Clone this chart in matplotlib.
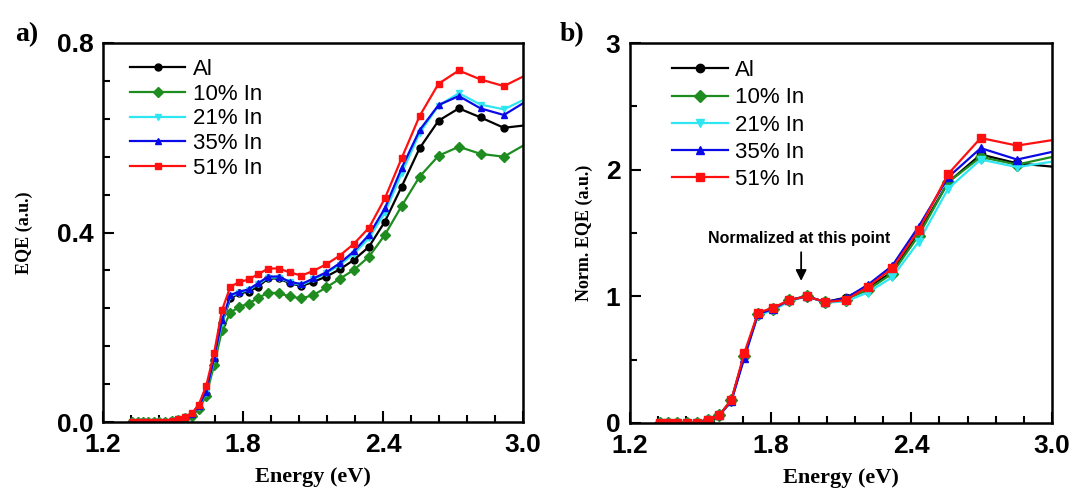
import matplotlib
matplotlib.use("Agg")
import matplotlib.pyplot as plt
from matplotlib.ticker import MultipleLocator

# ---------------- data ----------------
labels = ["Al", "10% In", "21% In", "35% In", "51% In"]
colors = ["#000000", "#1e8c1e", "#2ee6f2", "#0a0ae6", "#ff1010"]
markers = ["o", "D", "v", "^", "s"]

# panel a energies (eV)
energy_a = [1.326, 1.348, 1.370, 1.393, 1.417, 1.442, 1.467, 1.494, 1.521, 1.550,
            1.580, 1.610, 1.642, 1.676, 1.710, 1.746, 1.784, 1.824, 1.865, 1.908,
            1.953, 2.000, 2.050, 2.102, 2.157, 2.214, 2.275, 2.340, 2.408, 2.480,
            2.557, 2.638, 2.725, 2.818, 2.918, 3.024]

eqe_al = [0, 0, 0, 0, 0, 0, 0.001, 0.003, 0.005, 0.009,
          0.015, 0.030, 0.060, 0.130, 0.208, 0.261, 0.272, 0.275, 0.286, 0.303,
          0.303, 0.293, 0.287, 0.296, 0.307, 0.322, 0.342, 0.370, 0.423, 0.497,
          0.578, 0.636, 0.662, 0.643, 0.621, 0.627]
eqe_10 = [0, 0, 0, 0, 0, 0, 0.001, 0.002, 0.004, 0.008,
          0.013, 0.027, 0.055, 0.120, 0.194, 0.231, 0.243, 0.250, 0.262, 0.273,
          0.272, 0.265, 0.261, 0.268, 0.284, 0.302, 0.321, 0.349, 0.395, 0.456,
          0.518, 0.562, 0.581, 0.566, 0.560, 0.590]
eqe_21 = [0, 0, 0, 0, 0, 0, 0.001, 0.003, 0.006, 0.010,
          0.016, 0.032, 0.062, 0.132, 0.210, 0.265, 0.273, 0.279, 0.291, 0.305,
          0.305, 0.295, 0.289, 0.301, 0.314, 0.331, 0.355, 0.388, 0.442, 0.525,
          0.610, 0.668, 0.694, 0.670, 0.660, 0.685]
eqe_35 = [0, 0, 0, 0, 0, 0, 0.001, 0.003, 0.006, 0.010,
          0.016, 0.033, 0.064, 0.135, 0.215, 0.268, 0.275, 0.280, 0.293, 0.307,
          0.307, 0.296, 0.291, 0.303, 0.316, 0.335, 0.360, 0.395, 0.451, 0.536,
          0.616, 0.669, 0.688, 0.662, 0.648, 0.680]
eqe_51 = [0, 0, 0, 0, 0, 0, 0.001, 0.003, 0.007, 0.011,
          0.018, 0.036, 0.076, 0.145, 0.236, 0.286, 0.295, 0.301, 0.312, 0.324,
          0.324, 0.316, 0.309, 0.319, 0.333, 0.351, 0.376, 0.410, 0.472, 0.557,
          0.646, 0.714, 0.742, 0.723, 0.709, 0.735]

# panel b energies (eV)
energy_b = [1.326, 1.363, 1.401, 1.442, 1.485, 1.531, 1.580, 1.632, 1.687, 1.746,
            1.810, 1.879, 1.953, 2.033, 2.120, 2.214, 2.318, 2.431, 2.557, 2.696,
            2.851, 3.024]

norm_al = [0, 0, 0, 0, 0, 0.02, 0.06, 0.18, 0.53, 0.86,
           0.90, 0.97, 1.00, 0.955, 0.99, 1.07, 1.19, 1.50, 1.90, 2.12,
           2.05, 2.02]
norm_10 = [0, 0, 0, 0, 0, 0.02, 0.06, 0.18, 0.53, 0.86,
           0.90, 0.97, 1.00, 0.955, 0.975, 1.05, 1.18, 1.48, 1.90, 2.10,
           2.04, 2.11]
norm_21 = [0, 0, 0, 0, 0, 0.02, 0.06, 0.17, 0.52, 0.85,
           0.89, 0.96, 1.00, 0.95, 0.96, 1.03, 1.15, 1.43, 1.85, 2.08,
           2.02, 2.07]
norm_35 = [0, 0, 0, 0, 0, 0.02, 0.06, 0.17, 0.51, 0.86,
           0.90, 0.97, 1.00, 0.955, 0.985, 1.09, 1.24, 1.55, 1.94, 2.17,
           2.08, 2.15]
norm_51 = [0, 0, 0, 0, 0, 0.02, 0.06, 0.18, 0.55, 0.87,
           0.91, 0.97, 1.00, 0.955, 0.97, 1.075, 1.22, 1.52, 1.966, 2.25,
           2.19, 2.24]

series_a = [eqe_al, eqe_10, eqe_21, eqe_35, eqe_51]
series_b = [norm_al, norm_10, norm_21, norm_35, norm_51]

xticks = [1.2, 1.8, 2.4, 3.0]
xticklabels = ["1.2", "1.8", "2.4", "3.0"]

# ---------------- figure ----------------
fig = plt.figure(figsize=(10.74, 4.91), dpi=100)
W, H = 1074, 491
def rect(l, t, r, b):
    return [l / W, (H - b) / H, (r - l) / W, (b - t) / H]

ax_a = fig.add_axes(rect(103, 43, 523, 422))
ax_b = fig.add_axes(rect(630, 43, 1052, 423))

tick_font = dict(family=["Liberation Sans", "DejaVu Sans"], weight="bold", size=19)
serif = ["Liberation Serif", "DejaVu Serif"]

def style(ax, ylim, yticks, yticklabels, yminor, ylabel, ylpad):
    ax.set_xlim(1.2, 3.0)
    ax.set_ylim(*ylim)
    ax.set_xticks(xticks)
    ax.set_xticklabels(xticklabels, fontdict=tick_font)
    ax.xaxis.set_minor_locator(MultipleLocator(0.12))
    ax.set_yticks(yticks)
    ax.set_yticklabels(yticklabels, fontdict=tick_font)
    ax.yaxis.set_minor_locator(MultipleLocator(yminor))
    ax.tick_params(which="both", direction="in", top=False, right=False, width=1.5)
    ax.tick_params(which="major", length=8)
    ax.tick_params(axis="x", which="major", pad=8)
    ax.tick_params(axis="y", which="major", pad=7)
    ax.tick_params(which="minor", length=5)
    for s in ax.spines.values():
        s.set_linewidth(1.8)
    ax.set_xlabel("Energy (eV)", family=serif, weight="bold", size=16, labelpad=7)
    ax.set_ylabel(ylabel, family=serif, weight="bold", size=13, labelpad=ylpad)

def draw(ax, x, ys, ms):
    for y, c, m, lab in zip(ys, colors, markers, labels):
        ax.plot(x, y, color=c, marker=m, markersize=ms, linewidth=1.6,
                markerfacecolor=c, markeredgecolor=c, label=lab)

draw(ax_a, energy_a, series_a, 5)
draw(ax_b, energy_b, series_b, 6)

style(ax_a, (0, 0.8), [0.0, 0.4, 0.8], ["0.0", "0.4", "0.8"], 0.08, "EQE (a.u.)", 17)
style(ax_b, (0, 3), [0, 1, 2, 3], ["0", "1", "2", "3"], 0.5, "Norm. EQE (a.u.)", 9)

leg_font = dict(family=["Liberation Sans", "DejaVu Sans"], size=16)
ax_a.legend(loc="upper left", bbox_to_anchor=(0.064, 0.958), frameon=False,
            prop=leg_font, handlelength=2.5, handletextpad=0.33,
            labelspacing=0.17, borderaxespad=0, borderpad=0)
ax_b.legend(loc="upper left", bbox_to_anchor=(0.0995, 0.955), frameon=False,
            prop=leg_font, handlelength=2.5, handletextpad=0.33,
            labelspacing=0.28, borderaxespad=0, borderpad=0)

ax_b.annotate("", xy=(1.93, 1.10), xytext=(1.93, 1.37),
              arrowprops=dict(arrowstyle="-|>", color="black", lw=1.3,
                              mutation_scale=16))
ax_b.text(1.92, 1.40, "Normalized at this point", ha="center", va="bottom",
          family=["Liberation Sans", "DejaVu Sans"], weight="bold", size=11.5)

fig.text(27 / W, 1 - 35 / H, "a)", family=serif, weight="bold", size=20,
         ha="center", va="center")
fig.text(572 / W, 1 - 35 / H, "b)", family=serif, weight="bold", size=20,
         ha="center", va="center")

fig.savefig("out.png", dpi=100)
